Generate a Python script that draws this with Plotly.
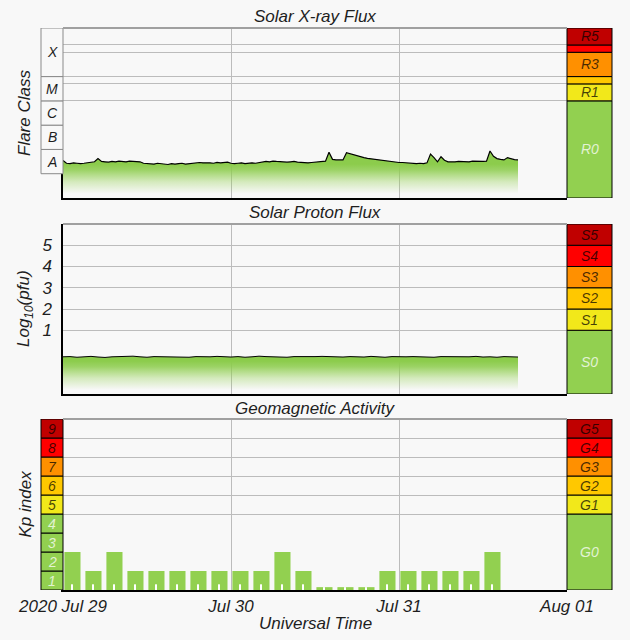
import numpy as np
import pandas as pd
import plotly.graph_objects as go

W, H = 630, 640

# GOES 1-8 A X-ray flux, half-hour samples from 2020-07-29 00:00 UT, in units of 1e-8 W/m2
xray_flux_e8 = [
    3.5, 2.7, 2.6, 2.8, 2.7, 2.6, 2.7, 2.8,
    3.0, 3.1, 4.2, 3.2, 3.1, 3.0, 3.2, 3.1,
    3.3, 3.2, 3.1, 3.3, 3.2, 3.0, 3.1,
    2.7, 2.6, 2.6, 2.5, 2.7, 2.6, 2.5, 2.4, 2.6, 2.5, 2.6, 2.7, 2.5, 2.6, 2.7,
    2.8, 2.9, 2.8, 2.9, 2.8, 2.7, 2.9, 2.8, 2.9, 3.0,
    2.7, 2.6, 2.7, 2.8, 2.6, 2.7, 2.8, 2.7, 2.9,
    3.0, 3.2, 3.1, 3.3, 3.2, 3.1, 3.2, 3.0, 3.1, 3.2, 3.0,
    2.9, 3.0, 2.8, 2.9, 3.0, 2.9, 3.1, 3.3,
    7.6, 3.9, 3.7, 3.6, 3.7,
    7.3, 6.6, 5.9, 5.3, 4.9, 4.6, 4.3, 4.1, 3.9, 3.7,
    3.5, 3.4, 3.3, 3.1, 3.0, 2.9, 2.9, 2.8, 2.8,
    2.7, 2.6, 2.7, 2.6, 2.8,
    6.5, 4.6, 3.1, 5.0, 3.6,
    3.1, 3.0, 3.1, 3.2, 3.1, 3.2, 3.1, 3.3, 3.2, 3.3, 3.2, 3.3,
    8.6, 5.2, 4.2, 3.9, 3.7, 4.6, 4.1, 3.8, 3.7,
]

# >=10 MeV proton flux, hourly, log10(pfu)
proton_log = [
    -0.25, -0.24, -0.27, -0.25, -0.23, -0.26, -0.28, -0.25, -0.24, -0.26, -0.22,
    -0.25, -0.27, -0.24, -0.25, -0.23, -0.26, -0.25, -0.27, -0.24, -0.26, -0.25,
    -0.23, -0.25, -0.26, -0.24, -0.27, -0.25, -0.22, -0.24, -0.26, -0.25, -0.27,
    -0.24, -0.25, -0.26, -0.24, -0.23, -0.25, -0.27, -0.26, -0.24, -0.25, -0.26,
    -0.23, -0.25, -0.27, -0.24, -0.26, -0.25, -0.24, -0.26, -0.25, -0.27, -0.24,
    -0.25, -0.26, -0.24, -0.25, -0.23, -0.26, -0.25, -0.27, -0.24, -0.25, -0.26,
]

# planetary K index, 3-hour intervals
kp_index = [2, 1, 2, 1, 1, 1, 1, 1,
            1, 1, 2, 1, 0.15, 0.15, 0.15, 1,
            1, 1, 1, 1, 2]

flare_classes = ["A", "B", "C", "M", "X"]
flare_bounds = [1e-8, 1e-7, 1e-6, 1e-5, 1e-4, 1e-2]
r_labels = ["R0", "R1", "", "R3", "", "R5"]
r_bounds = [1e-9, 1e-5, 5e-5, 1e-4, 1e-3, 2e-3, 1e-2]
s_labels = ["S0", "S1", "S2", "S3", "S4", "S5"]
s_bounds = [-2, 1, 2, 3, 4, 5, 6]
g_labels = ["G0", "G1", "G2", "G3", "G4", "G5"]
g_bounds = [0, 4, 5, 6, 7, 8, 9]
kp_levels = [1, 2, 3, 4, 5, 6, 7, 8, 9]
scale_colors = ["#92d050", "#f2e81a", "#ffc800", "#ff9000", "#ff0000", "#c00000"]
kp_colors = ["#92d050"] * 4 + scale_colors[1:]

day_ticks = ["2020-07-29", "2020-07-30", "2020-07-31", "2020-08-01"]
day_labels = ["2020 Jul 29", "Jul 30", "Jul 31", "Aug 01"]

xray_flux = np.array(xray_flux_e8) * 1e-8
xray_time = pd.date_range("2020-07-29 00:00", periods=len(xray_flux), freq="30min")
proton_time = pd.date_range("2020-07-29 00:00", periods=len(proton_log), freq="1h")
kp_time = pd.date_range("2020-07-29 00:00", periods=len(kp_index), freq="3h")

FONT = "Liberation Sans, Arial, sans-serif"
TXT = "#1e1e1e"
BG = "#f8f8f8"
GRID = "#bcbcbc"
GREEN = "rgb(140,204,76)"
fade = [[0, "rgba(146,208,80,0)"], [0.4, "rgba(146,208,80,0.35)"],
        [0.8, "rgba(140,204,76,0.85)"], [1, GREEN]]


def fx(p):
    return p / W


def fy(p):
    return 1 - p / H


main_x = [fx(63), fx(567)]
right_col = [fx(567), fx(612)]
left_col = [fx(41), fx(63)]
dom = {"y": [fy(198), fy(28)], "y2": [fy(394), fy(224)], "y3": [fy(590), fy(419)]}

fig = go.Figure()

# x-ray
fig.add_trace(go.Scatter(x=xray_time, y=np.full(len(xray_time), 1e-9), mode="lines",
                         line=dict(width=0), xaxis="x", yaxis="y", hoverinfo="skip"))
fig.add_trace(go.Scatter(x=xray_time, y=xray_flux, mode="lines", fill="tonexty",
                         fillgradient=dict(type="vertical", colorscale=fade, start=1.5e-9, stop=2.5e-8),
                         line=dict(color="black", width=1.2), xaxis="x", yaxis="y"))

# protons
fig.add_trace(go.Scatter(x=proton_time, y=np.full(len(proton_time), -2.0), mode="lines",
                         line=dict(width=0), xaxis="x2", yaxis="y2", hoverinfo="skip"))
fig.add_trace(go.Scatter(x=proton_time, y=proton_log, mode="lines", fill="tonexty",
                         fillgradient=dict(type="vertical", colorscale=fade, start=-1.8, stop=-0.45),
                         line=dict(color="black", width=1), xaxis="x2", yaxis="y2"))

# Kp bars (with white centre notch)
hour = 3600 * 1000
fig.add_trace(go.Bar(x=kp_time, y=kp_index, width=2.3 * hour, offset=0.2 * hour,
                     marker=dict(color="#92d050", line=dict(width=0)), xaxis="x3", yaxis="y3"))
fig.add_trace(go.Bar(x=kp_time, y=np.minimum(kp_index, 0.3), width=0.16 * hour, offset=1.27 * hour,
                     marker=dict(color="white", line=dict(width=0)), xaxis="x3", yaxis="y3"))

shapes = []
annotations = []


def label(text, x, y, yref, size=14, color=TXT, angle=0):
    annotations.append(dict(text=text, x=x, y=y, xref="paper", yref=yref, showarrow=False,
                            textangle=angle, xanchor="center", yanchor="middle",
                            font=dict(family=FONT, size=size, color=color, style="italic")))


def column(xr, yref, bounds, colors, texts, text_colors, line="black", log=False):
    for i in range(len(bounds) - 1):
        lo, hi = bounds[i], bounds[i + 1]
        shapes.append(dict(type="rect", xref="paper", yref=yref, x0=xr[0], x1=xr[1], y0=lo, y1=hi,
                           fillcolor=colors[i], line=dict(color=line, width=1), layer="above"))
        if texts[i]:
            yc = (np.log10(lo) + np.log10(hi)) / 2 if log else (lo + hi) / 2
            label(texts[i], sum(xr) / 2, yc, yref, size=14, color=text_colors[i])


dark = "rgba(0,0,0,0.72)"
light = "rgba(255,255,255,0.75)"
column(right_col, "y", r_bounds, scale_colors, r_labels, [light] + [dark] * 5, log=True)
column(right_col, "y2", s_bounds, scale_colors, s_labels, [light] + [dark] * 5)
column(right_col, "y3", g_bounds, scale_colors, g_labels, [light] + [dark] * 5)
column(left_col, "y", flare_bounds, [BG] * 5, flare_classes, [TXT] * 5, line="#8a8a8a", log=True)
column(left_col, "y3", [0] + kp_levels, kp_colors, [str(k) for k in kp_levels],
       [light] * 4 + [dark] * 5)

# grey top frame of each panel
for d in dom.values():
    shapes.append(dict(type="line", xref="paper", yref="paper", x0=main_x[0], x1=main_x[1],
                       y0=d[1], y1=d[1], line=dict(color="#a0a0a0", width=2)))

# titles
label("Solar X-ray Flux", 0.5, fy(16), "paper", size=17)
label("Solar Proton Flux", 0.5, fy(213), "paper", size=17)
label("Geomagnetic Activity", 0.5, fy(408), "paper", size=17)
label("Flare Class", fx(25), sum(dom["y"]) / 2, "paper", size=17, angle=-90)
label("Log<sub>10</sub>(pfu)", fx(25), sum(dom["y2"]) / 2, "paper", size=17, angle=-90)
label("Kp index", fx(25), sum(dom["y3"]) / 2, "paper", size=17, angle=-90)
label("Universal Time", 0.5, fy(623), "paper", size=17)

xcommon = dict(type="date", range=["2020-07-29", "2020-08-01"], domain=main_x, automargin=False,
               tickvals=day_ticks, ticktext=day_labels, showgrid=True, gridcolor=GRID,
               gridwidth=1, showline=True, linecolor="black", linewidth=1.5, ticks="",
               zeroline=False, tickfont=dict(family=FONT, size=17, color=TXT, style="italic"))
ycommon = dict(showgrid=True, gridcolor=GRID, gridwidth=1, showline=True, linecolor="black",
               linewidth=1.5, zeroline=False, ticks="", automargin=False)

fig.update_layout(
    width=W, height=H, margin=dict(l=0, r=0, t=0, b=0, pad=0, autoexpand=False),
    paper_bgcolor=BG, plot_bgcolor=BG, showlegend=False, barmode="overlay",
    xaxis=dict(xcommon, anchor="y", showticklabels=False),
    xaxis2=dict(xcommon, anchor="y2", matches="x", showticklabels=False),
    xaxis3=dict(xcommon, anchor="y3", matches="x", showticklabels=True),
    yaxis=dict(ycommon, anchor="x", domain=dom["y"], type="log", range=[-9, -2],
               tickvals=r_bounds[1:-1], showticklabels=False),
    yaxis2=dict(ycommon, anchor="x2", domain=dom["y2"], range=[-2, 6],
                tickvals=[1, 2, 3, 4, 5], ticklabelstandoff=6,
                tickfont=dict(family=FONT, size=17, color=TXT, style="italic")),
    yaxis3=dict(ycommon, anchor="x3", domain=dom["y3"], range=[0, 9],
                tickvals=[4, 5, 6, 7, 8], showticklabels=False),
    shapes=shapes, annotations=annotations,
)

# the page's default body margin would push the figure 8px off the window
fig.write_html("out.html", config={"displayModeBar": False},
               post_script="document.body.style.margin = '0px';")
